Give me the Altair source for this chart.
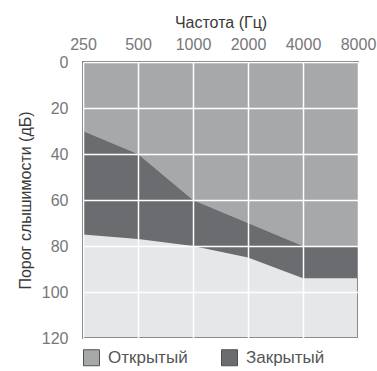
import altair as alt
import pandas as pd

freqs = [250, 500, 1000, 2000, 4000, 8000]
open_threshold = [30, 40, 60, 70, 80, 80]
closed_threshold = [75, 77, 80, 85, 94, 94]
series = ["Открытый", "Закрытый"]
colors = ["#a7a8aa", "#6b6c6f"]
y_ticks = [0, 20, 40, 60, 80, 100, 120]

rows = []
for f, o, c in zip(freqs, open_threshold, closed_threshold):
    rows.append({"freq": f, "series": series[0], "lo": 0, "hi": o})
    rows.append({"freq": f, "series": series[1], "lo": o, "hi": c})
df = pd.DataFrame(rows)

FONT = "Liberation Sans"

x = alt.X(
    "freq:Q",
    scale=alt.Scale(type="log", base=2, domain=[250, 8000], nice=False),
    axis=alt.Axis(
        orient="top", values=freqs, format="d", title="Частота (Гц)",
        labelPadding=10, titlePadding=6, ticks=False, domain=False,
        grid=True, gridColor="white", gridWidth=1.5, zindex=1,
        labelFlush=False,
    ),
)
y = alt.Y(
    "lo:Q",
    scale=alt.Scale(domain=[0, 120], reverse=True, nice=False),
    axis=alt.Axis(
        values=y_ticks, title="Порог слышимости (дБ)",
        labelPadding=15, titlePadding=8, ticks=False, domain=False,
        grid=True, gridColor="white", gridWidth=1.5, zindex=1,
    ),
)

chart = (
    alt.Chart(df)
    .mark_area(opacity=1, interpolate="linear")
    .encode(
        x=x,
        y=y,
        y2="hi:Q",
        color=alt.Color(
            "series:N",
            scale=alt.Scale(domain=series, range=colors),
            legend=alt.Legend(
                title=None, orient="none", legendX=0, legendY=287,
                direction="horizontal", symbolType="square", symbolSize=256,
                symbolStrokeColor="#505050", symbolStrokeWidth=1,
                symbolOpacity=1, labelFontSize=17, labelColor="#555",
                labelFont=FONT, columnPadding=31, symbolOffset=0,
                labelOffset=8, padding=0,
            ),
        ),
        detail="series:N",
    )
    .properties(
        width=275, height=276,
        background="white",
        autosize=alt.AutoSizeParams(type="none"),
        padding={"left": 83, "top": 62, "right": 19, "bottom": 33},
    )
    .configure_view(fill="#e6e7e8", stroke="#3a3a3a", strokeWidth=1.5)
    .configure_axis(
        labelFont=FONT, titleFont=FONT, labelFontSize=16, titleFontSize=16,
        labelColor="#777", titleColor="#3a3a3a", titleFontWeight="normal",
    )
)

chart.save("out.html", embed_options={"renderer": "svg", "actions": False})
